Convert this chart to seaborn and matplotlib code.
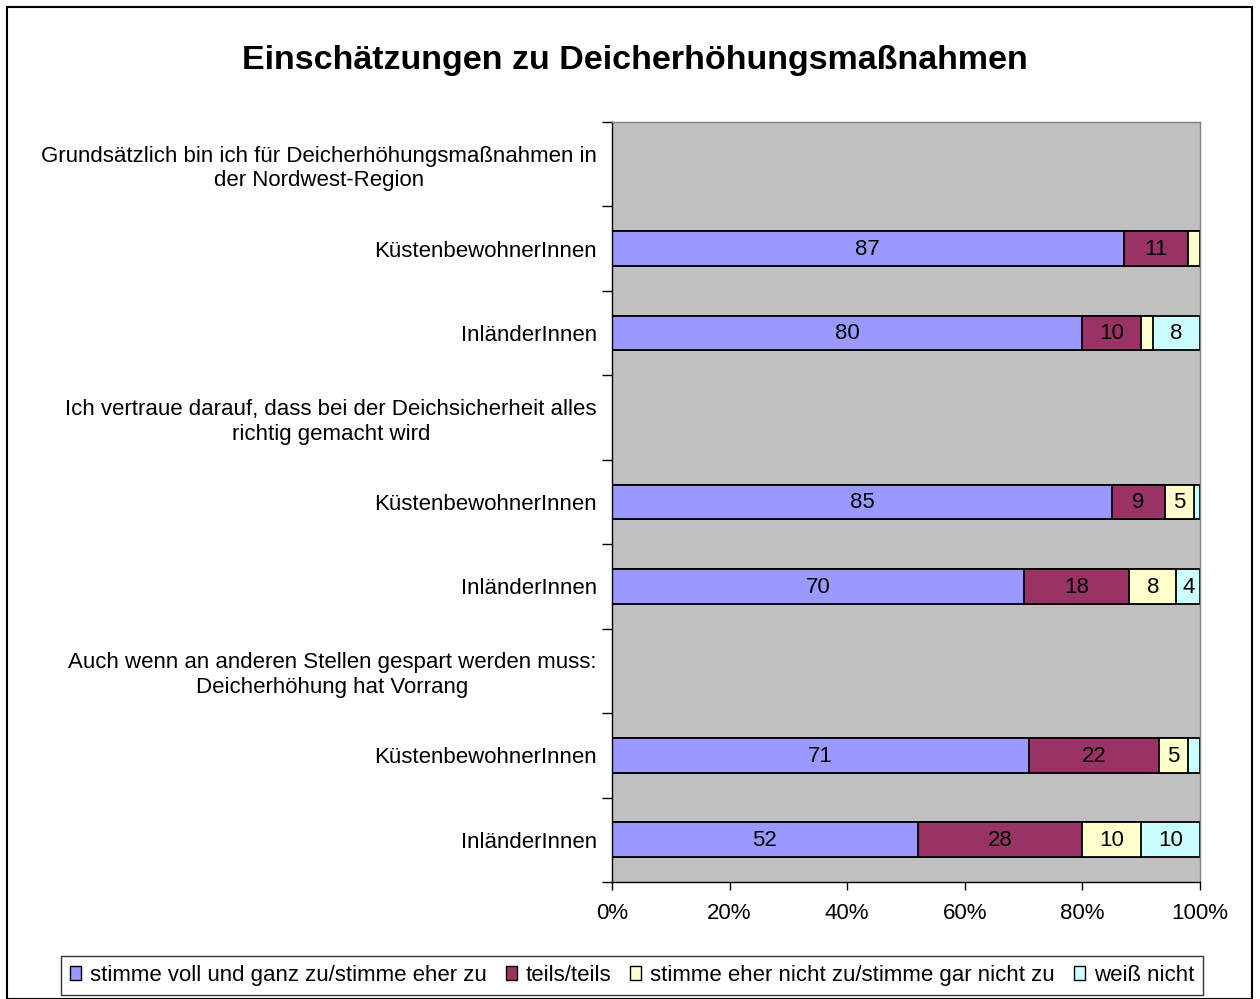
import matplotlib
matplotlib.use("Agg")
import matplotlib.pyplot as plt
import seaborn as sns
import pandas as pd
from matplotlib.patches import Rectangle, Patch
from matplotlib.ticker import FixedLocator, FuncFormatter

# Rows from top to bottom: statement header followed by the two groups
row_labels = [
    "Grundsätzlich bin ich für Deicherhöhungsmaßnahmen in\nder Nordwest-Region",
    "KüstenbewohnerInnen",
    "InländerInnen",
    "Ich vertraue darauf, dass bei der Deichsicherheit alles\nrichtig gemacht wird",
    "KüstenbewohnerInnen",
    "InländerInnen",
    "Auch wenn an anderen Stellen gespart werden muss:\nDeicherhöhung hat Vorrang",
    "KüstenbewohnerInnen",
    "InländerInnen",
]
agree = [0, 87, 80, 0, 85, 70, 0, 71, 52]
partly = [0, 11, 10, 0, 9, 18, 0, 22, 28]
disagree = [0, 2, 2, 0, 5, 8, 0, 5, 10]
dont_know = [0, 0, 8, 0, 1, 4, 0, 2, 10]

series_names = [
    "stimme voll und ganz zu/stimme eher zu",
    "teils/teils",
    "stimme eher nicht zu/stimme gar nicht zu",
    "weiß nicht",
]
colors = ["#9999FF", "#993366", "#FFFFCC", "#CCFFFF"]
title = "Einschätzungen zu Deicherhöhungsmaßnahmen"
x_ticks = [0, 20, 40, 60, 80, 100]

plt.rcParams["font.family"] = ["Liberation Sans", "DejaVu Sans"]
FS = 16

series = [agree, partly, disagree, dont_know]
df = pd.DataFrame({"row": [f"r{i}" for i in range(len(row_labels))]})
running = [0] * len(row_labels)
for k, vals in enumerate(series):
    running = [a + b for a, b in zip(running, vals)]
    df[f"cum{k}"] = running

W, H = 1260, 999
fig = plt.figure(figsize=(W / 100, H / 100), dpi=100)
fig.patch.set_facecolor("white")
ax = fig.add_axes([612 / W, 1 - 882 / H, (1200 - 612) / W, (882 - 122) / H])
ax.set_facecolor("#C0C0C0")

# Stacked bars: draw cumulative totals from the widest down
for k in reversed(range(len(series))):
    sns.barplot(data=df, x=f"cum{k}", y="row", orient="h", color=colors[k],
                saturation=1, edgecolor="black", linewidth=1.3, width=0.41,
                ax=ax, errorbar=None)

# Value labels inside the segments
for i in range(len(row_labels)):
    left = 0
    for vals in series:
        v = vals[i]
        if v >= 4:
            ax.text(left + v / 2, i + 0.01, f"{v}", ha="center", va="center",
                    fontsize=FS, color="black")
        left += v

ax.set_xlim(0, 100)
ax.set_ylim(len(row_labels) - 0.5, -0.5)
ax.set_xlabel("")
ax.set_ylabel("")
ax.xaxis.set_major_locator(FixedLocator(x_ticks))
ax.xaxis.set_major_formatter(FuncFormatter(lambda v, p: f"{int(v)}%"))
ax.tick_params(axis="x", direction="out", length=6, width=1, pad=9,
               labelsize=FS, color="black")

ax.set_yticks(range(len(row_labels)))
ax.set_yticklabels(row_labels)
for t in ax.get_yticklabels():
    t.set_multialignment("center")
    t.set_linespacing(1.22)
ax.tick_params(axis="y", which="major", length=0, pad=11, labelsize=FS)
ax.yaxis.set_minor_locator(FixedLocator([i + 0.5 for i in range(-1, len(row_labels))]))
ax.tick_params(axis="y", which="minor", direction="out", length=7, width=1,
               color="black")

for side in ["left", "bottom"]:
    ax.spines[side].set_color("black")
    ax.spines[side].set_linewidth(1)
for side in ["top", "right"]:
    ax.spines[side].set_color("#808080")
    ax.spines[side].set_linewidth(1)

fig.text(635 / W, 1 - 60 / H, title, ha="center", va="center",
         fontsize=24.5, fontweight="bold")

handles = [Patch(facecolor=c, edgecolor="black", linewidth=1) for c in colors]
leg = fig.legend(handles, series_names, loc="center",
                 bbox_to_anchor=(632 / W, 1 - 975.5 / H), ncol=4,
                 frameon=True, fancybox=False, edgecolor="black",
                 fontsize=FS, handlelength=0.5, handleheight=0.55,
                 handletextpad=0.4, columnspacing=0.85, borderpad=0.42,
                 borderaxespad=0)
leg.get_frame().set_linewidth(1)

# Outer chart border
fig.patches.append(Rectangle((7 / W, 0.5 / H), (1252 - 7) / W, (992 - 0.5) / H,
                             transform=fig.transFigure, fill=False,
                             edgecolor="black", linewidth=1.5))

fig.savefig("out.png", dpi=100)
